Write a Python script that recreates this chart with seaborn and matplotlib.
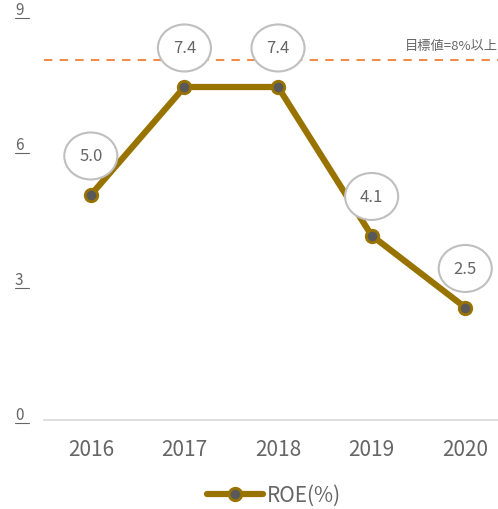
import matplotlib
matplotlib.use("Agg")
import matplotlib.pyplot as plt
import matplotlib.transforms as mtransforms
import seaborn as sns
import pandas as pd
from matplotlib.patches import Ellipse
from matplotlib.lines import Line2D

years = ["2016", "2017", "2018", "2019", "2020"]
roe = [5.0, 7.4, 7.4, 4.1, 2.5]
target = 8.0
yticks = [0, 3, 6, 9]
series_name = "ROE(%)"
target_label = "目標値=8%以上"

sns.set_theme(style="white")
plt.rcParams["font.family"] = ["Noto Sans CJK JP", "DejaVu Sans"]

line_color = "#987300"
marker_color = "#595959"
text_color = "#666666"

df = pd.DataFrame({"year": years, "roe": roe, "x": range(len(years))})

fig = plt.figure(figsize=(4.98, 5.10), dpi=100)
ax = fig.add_axes([44 / 498, (510 - 421) / 510, 1 - 44 / 498, 405 / 510])

ax.axhline(target, color="#F08C4A", lw=1.5, ls=(0, (4, 3.5)), zorder=1)
ax.text(4.35, target + 0.17, target_label, ha="right", va="bottom",
        fontsize=9.5, color=text_color)

sns.lineplot(data=df, x="x", y="roe", ax=ax, color=line_color, lw=4.5,
             marker="o", markersize=9, markerfacecolor=marker_color,
             markeredgecolor=line_color, markeredgewidth=2, zorder=3)

for i, v in enumerate(roe):
    e = Ellipse((i, v + 0.867), width=53 / 93.5, height=47 / 45,
                facecolor="white", edgecolor="#BFBFBF", lw=1.5, zorder=4,
                clip_on=False)
    ax.add_patch(e)
    ax.text(i, v + 0.867, f"{v:.1f}", ha="center", va="center",
            fontsize=12, color=text_color, zorder=5)

ax.set_xlim(-0.5, 4.35)
ax.set_ylim(0, 9)
ax.set_xticks(range(len(years)))
ax.set_xticklabels(years, fontsize=15, color=text_color)
ax.set_yticks(yticks)
ax.set_yticklabels([])
ax.tick_params(axis="y", length=0)
ax.tick_params(axis="x", length=0, pad=13)

# underlined y tick labels
blend = mtransforms.blended_transform_factory(fig.transFigure, ax.transData)
under = blend + mtransforms.ScaledTranslation(0, -3 / 100, fig.dpi_scale_trans)
for t in yticks:
    ax.text(15 / 498, t, str(t), transform=under, ha="left", va="bottom",
            fontsize=11, color=text_color, clip_on=False)
    ax.add_line(Line2D([15 / 498, 29 / 498], [t, t], transform=under,
                       color=text_color, lw=0.8, clip_on=False))

ax.set_xlabel("")
ax.set_ylabel("")
for s in ["top", "right", "left"]:
    ax.spines[s].set_visible(False)
ax.spines["bottom"].set_color("#D9D9D9")
ax.spines["bottom"].set_linewidth(1.2)
if ax.get_legend() is not None:
    ax.get_legend().remove()

handle = Line2D([], [], color=line_color, lw=4.5, marker="o", markersize=9,
                markerfacecolor=marker_color, markeredgecolor=line_color,
                markeredgewidth=2)
fig.legend([handle], [series_name], loc="center", bbox_to_anchor=(0.55, 0.027),
           frameon=False, fontsize=15, handlelength=2.7, labelcolor=text_color,
           handletextpad=0.2)

fig.savefig("out.png", dpi=100)
